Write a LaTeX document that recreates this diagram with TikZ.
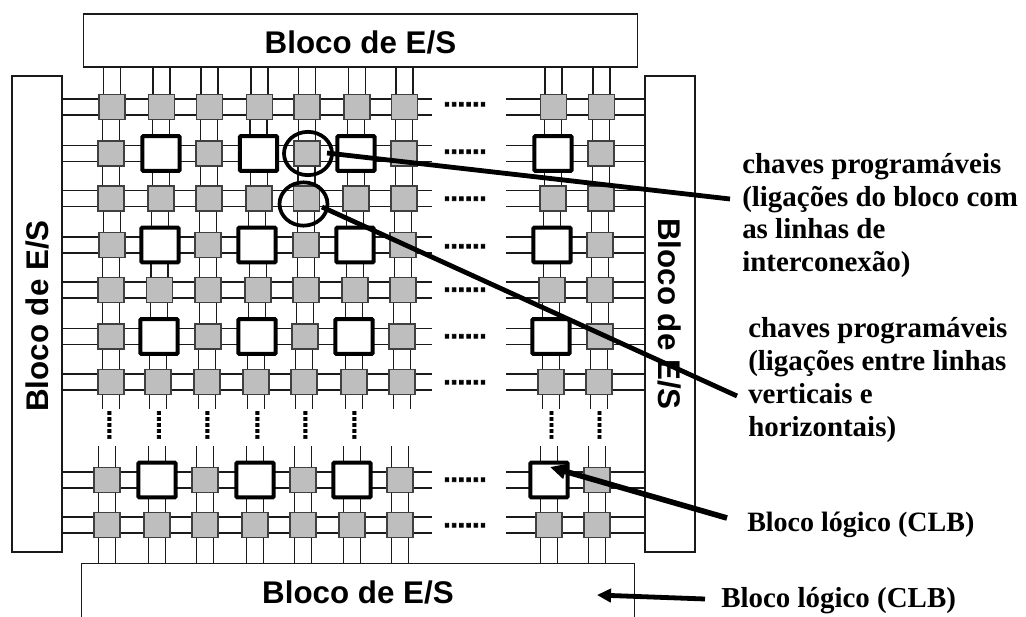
\documentclass[tikz,border=0pt]{standalone}
\usepackage{fontspec}
\setmainfont{Liberation Serif}
\newfontfamily\blocofont{Liberation Sans}
\newfontfamily\dotfont[FakeBold=2.6]{Liberation Sans Bold}
\usetikzlibrary{arrows.meta,shapes.geometric}
\pgfdeclarelayer{bg}
\pgfsetlayers{bg,main}
\definecolor{swgray}{HTML}{BEBEBE}
\definecolor{wire}{HTML}{1A1A1A}
\tikzset{
  swbox/.style={draw=black!75,line width=1.1pt,fill=swgray,minimum width=19.5pt,minimum height=18.5pt,inner sep=0pt},
  clbbox/.style={draw=black,line width=3pt,fill=white,rounded corners=0.8pt,minimum width=28pt,minimum height=26pt,inner sep=0pt},
  blockbox/.style={draw=wire,line width=0.9pt,fill=white,inner sep=0pt,font=\blocofont\bfseries\fontsize{23.5}{26}\selectfont},
  lowtext/.style={text height=20pt,text depth=0.8pt},
  wireline/.style={draw=wire,line width=1.2pt},
  hdots/.style={inner sep=0pt,anchor=base,font=\dotfont\fontsize{19.5}{20}\selectfont},
  vdots/.style={inner sep=0pt,anchor=base,rotate=90,font=\dotfont\fontsize{16.2}{18}\selectfont},
  labeltext/.style={inner sep=0pt,anchor=west,align=left,font=\bfseries\fontsize{21}{24.6}\selectfont},
  widelabel/.style={labeltext,font=\bfseries\fontsize{21.7}{24.6}\selectfont},
  leader/.style={draw=black,line width=3.6pt},
  ring/.style={draw=black,line width=2.8pt},
  pointer/.style={draw=black,line width=4.2pt,-{Triangle[length=12pt,width=11pt]}},
  shortpointer/.style={draw=black,line width=3.6pt,-{Triangle[length=10.5pt,width=10pt]}}
}
\begin{document}
\begin{tikzpicture}[x=0.75pt,y=-0.75pt]
\useasboundingbox (0,0) rectangle (1026,617);
% blocks
\node[blockbox,lowtext,minimum width=416pt,minimum height=39.75pt] (top) at (360.5,40.5) {Bloco de E/S};
\node[blockbox,minimum width=357pt,minimum height=37.5pt,rotate=90] (left) at (37,314) {Bloco de E/S\hspace*{3pt}};
\node[blockbox,minimum width=357pt,minimum height=37.5pt,rotate=-90] (right) at (670,314) {Bloco de E/S};
\node[blockbox,lowtext,draw=none,minimum width=414pt,minimum height=39.75pt] (bottom) at (358,590.5) {Bloco de E/S};
\draw[draw=wire,line width=0.9pt] (bottom.south west) -- (bottom.north west) -- (bottom.north east) -- (bottom.south east);
% cells, row by row
\foreach \r/\y/\dy/\xs in {
  0/107/103/{112,161.5,209.5,259.5,307,357,404.5,553.7,601.5},
  1/153.5/150.5/{111,161,209,258.5,307,356,404,553,601},
  2/198.5/197.5/{111,161,209,259,306.5,356,404,553,601},
  3/245/245/{112,160,208,257,306,355,403,552,600},
  4/290/288.5/{111,159.5,208,258,306,355,403,552,600},
  5/336.5/335/{111,159,208,257,305,354,402,551,600},
  6/382/381/{111,158,207,256,304,354,402,551,599},
  7/480/478.5/{107,157,205,255,303,352,400,549,597},
  8/525/524/{107,157,205,255,303,352,400,549,597}}{
  \foreach \x [count=\c from 0] in \xs {
    \edef\cellstyle{\ifodd\numexpr\r*\c\relax clbbox\else swbox\fi}
    \node[\cellstyle] (n-\r-\c) at (\x,\y) {};
    \coordinate (up-\r-\c-a) at (\x-8.5,67);
    \coordinate (up-\r-\c-b) at (\x+8.5,67);
    \coordinate (mid-\r-\c-a) at (\x-8.5,409);
    \coordinate (mid-\r-\c-b) at (\x+8.5,409);
    \coordinate (res-\r-\c-a) at (\x-8.5,446);
    \coordinate (res-\r-\c-b) at (\x+8.5,446);
    \coordinate (low-\r-\c-a) at (\x-8.5,564);
    \coordinate (low-\r-\c-b) at (\x+8.5,564);
  }
  \coordinate (ela-\r) at (62,\y-8);
  \coordinate (elb-\r) at (62,\y+8);
  \coordinate (gla-\r) at (432,\y-8);
  \coordinate (glb-\r) at (432,\y+8);
  \coordinate (gra-\r) at (506,\y-8);
  \coordinate (grb-\r) at (506,\y+8);
  \coordinate (era-\r) at (645,\y-8);
  \coordinate (erb-\r) at (645,\y+8);
  \node[hdots] (hd-\r) at (465,\dy+3.2) {......};
  % horizontal wires
  \begin{pgfonlayer}{bg}
    \draw[wireline] (ela-\r) -- (gla-\r);
    \draw[wireline] (elb-\r) -- (glb-\r);
    \draw[wireline] (gra-\r) -- (era-\r);
    \draw[wireline] (grb-\r) -- (erb-\r);
  \end{pgfonlayer}
}
% vertical wires: each gap straight, at the x of the cell below it
\begin{pgfonlayer}{bg}
\foreach \c in {0,...,8}{
  \draw[wireline] (up-0-\c-a) -- (up-0-\c-a |- n-0-\c.center);
  \draw[wireline] (up-0-\c-b) -- (up-0-\c-b |- n-0-\c.center);
  \foreach \p/\q in {0/1,1/2,2/3,3/4,4/5,5/6,7/8}{
    \draw[wireline] (up-\q-\c-a |- n-\p-\c.center) -- (up-\q-\c-a |- n-\q-\c.center);
    \draw[wireline] (up-\q-\c-b |- n-\p-\c.center) -- (up-\q-\c-b |- n-\q-\c.center);
  }
  \draw[wireline] (up-6-\c-a |- n-6-\c.center) -- (mid-6-\c-a);
  \draw[wireline] (up-6-\c-b |- n-6-\c.center) -- (mid-6-\c-b);
  \draw[wireline] (res-7-\c-a) -- (up-7-\c-a |- n-7-\c.center);
  \draw[wireline] (res-7-\c-b) -- (up-7-\c-b |- n-7-\c.center);
  \draw[wireline] (up-8-\c-a |- n-8-\c.center) -- (low-8-\c-a);
  \draw[wireline] (up-8-\c-b |- n-8-\c.center) -- (low-8-\c-b);
}
\end{pgfonlayer}
% vertical dots
\foreach \i/\x in {0/111,1/160.5,2/209,3/259,4/307,5/356,6/553,7/601}{
  \node[vdots] (vd-\i) at (\x,425) {.....};
}
% labels
\node[widelabel] (la) at (742,215.5) {chaves programáveis\\(ligações do bloco com\\as linhas de\\interconexão)};
\node[widelabel] (lb) at (748,380) {chaves programáveis\\(ligações entre linhas\\verticais e\\horizontais)};
\node[labeltext] (lc) at (747,525) {Bloco lógico (CLB)};
\node[widelabel] (ld) at (721,601) {Bloco lógico (CLB)};
% rings and leaders
\node[ring,ellipse,minimum width=36pt,minimum height=32.5pt,inner sep=0pt] (ra) at (308,153.5) {};
\node[ring,ellipse,minimum width=36pt,minimum height=32.5pt,inner sep=0pt] (rb) at (303.5,204) {};
\coordinate (a1) at (327,153);
\coordinate (a2) at (730,199);
\coordinate (b1) at (322,207);
\coordinate (b2) at (737,396);
\coordinate (c1) at (727,518);
\coordinate (c2) at (550,467);
\coordinate (d1) at (705,599);
\coordinate (d2) at (597,595);
\draw[leader] (a1) -- (a2);
\draw[leader] (b1) -- (b2);
\draw[pointer] (c1) -- (c2);
\draw[shortpointer] (d1) -- (d2);
\end{tikzpicture}
\end{document}
